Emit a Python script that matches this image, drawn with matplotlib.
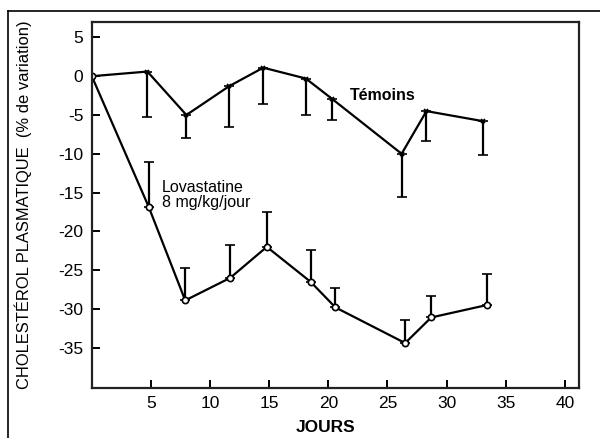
import numpy as np
import matplotlib
matplotlib.use("Agg")
import matplotlib.pyplot as plt
from matplotlib.lines import Line2D

plt.rcParams['font.family'] = ['Liberation Sans', 'DejaVu Sans']
plt.rcParams['axes.unicode_minus'] = False

# Témoins (croix, barres vers le bas)
jours_t = [0, 4.7, 8.0, 11.6, 14.5, 18.1, 20.3, 26.2, 28.3, 33.1]
temoins = [0, 0.6, -5.0, -1.3, 1.1, -0.3, -2.9, -10.0, -4.5, -5.8]
temoins_bas = [0, -5.3, -8.0, -6.6, -3.6, -5.0, -5.6, -15.6, -8.4, -10.1]

# Lovastatine (cercles, barres vers le haut)
jours_l = [0, 4.8, 7.9, 11.7, 14.8, 18.5, 20.6, 26.5, 28.7, 33.4]
lova = [0, -16.8, -28.9, -26.0, -22.0, -26.5, -29.8, -34.4, -31.1, -29.5]
lova_haut = [0, -11.0, -24.7, -21.7, -17.5, -22.4, -27.3, -31.4, -28.3, -25.5]

xticks = [5, 10, 15, 20, 25, 30, 35, 40]
yticks = [5, 0, -5, -10, -15, -20, -25, -30, -35]

fig = plt.figure(figsize=(6, 4.38), dpi=100)
ax = fig.add_axes([0.153, 0.114, 0.812, 0.836])

# cadre extérieur (haut et gauche)
fig.add_artist(Line2D([8/600, 1.0], [1 - 11/438, 1 - 11/438], color="black", lw=1.2))
fig.add_artist(Line2D([8/600, 8/600], [0, 1 - 11/438], color="black", lw=1.2))

t = np.array(temoins)
err_t = [t - np.array(temoins_bas), np.zeros(len(t))]
ax.errorbar(jours_t, temoins, yerr=err_t, fmt='-', color="black", lw=1.6,
            elinewidth=1.6, capsize=3.5, capthick=1.6, marker='x', markersize=3,
            mew=1.2)

l = np.array(lova)
err_l = [np.zeros(len(l)), np.array(lova_haut) - l]
ax.errorbar(jours_l, lova, yerr=err_l, fmt='-', color="black", lw=1.6,
            elinewidth=1.6, capsize=3.5, capthick=1.6, marker='o', markersize=4.5,
            mfc="white", mec="black", mew=1.2)

ax.text(21.8, -2.5, "Témoins", fontsize=11.5, fontweight="bold", ha="left", va="center")
ax.text(5.9, -15.3, "Lovastatine\n8 mg/kg/jour", fontsize=11.5, ha="left", va="center",
        linespacing=1.0)

ax.set_xlim(0, 41.2)
ax.set_ylim(-40.2, 7.0)
ax.set_xticks(xticks)
ax.set_yticks(yticks)
ax.set_xticklabels([str(v) for v in xticks], fontsize=12.5)
ax.set_yticklabels([str(v) for v in yticks], fontsize=12.5)
ax.tick_params(direction="in", length=6, width=1.4, pad=6)
for s in ax.spines.values():
    s.set_linewidth(1.6)
    s.set_color("#222222")

ax.set_xlabel("JOURS", fontsize=12.5, fontweight="bold")
ax.xaxis.set_label_coords(0.48, -0.086)
ax.set_ylabel("CHOLESTÉROL PLASMATIQUE  (% de variation)", fontsize=11.9)
ax.yaxis.set_label_coords(-0.123, 0.5)

fig.savefig("out.png", dpi=100)
